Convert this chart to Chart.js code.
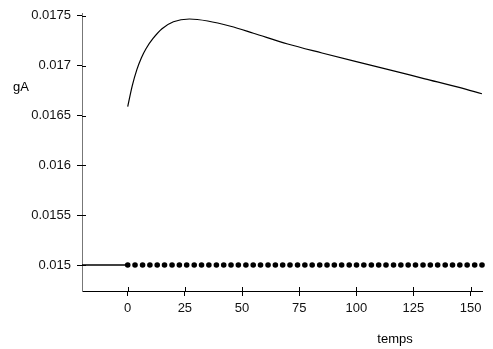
<!DOCTYPE html>
<html>
<head>
<meta charset="utf-8">
<script src="https://cdn.jsdelivr.net/npm/chart.js@4"></script>
<style>
  body { margin: 0; background: #fff; }
  canvas { display: block; }
</style>
</head>
<body>
<canvas id="chart" width="493" height="349"></canvas>
<script>
// curve gA(temps)
const curveTimes = [0, 2, 4, 6, 8, 11, 15, 20, 27, 35, 45, 55, 70, 85, 100, 115, 130, 145, 155];
const curveValues = [0.01659, 0.0168, 0.01696, 0.01708, 0.01717, 0.01727, 0.01737, 0.01744, 0.017468,
                     0.017448, 0.017395, 0.017325, 0.017217, 0.017127, 0.01704, 0.016955, 0.016868,
                     0.016782, 0.016718];

// flat level before t=0
const baseTimes = [-20, 0];
const baseValues = [0.015, 0.015];

// dotted series
const dotTimes = [0, 3.2, 6.5, 9.7, 12.9, 16.1, 19.4, 22.6, 25.8, 29.1, 32.3, 35.5, 38.8, 42, 45.2, 48.4,
                  51.7, 54.9, 58.1, 61.4, 64.6, 67.8, 71, 74.3, 77.5, 80.7, 84, 87.2, 90.4, 93.6, 96.9,
                  100.1, 103.3, 106.6, 109.8, 113, 116.3, 119.5, 122.7, 125.9, 129.2, 132.4, 135.6,
                  138.9, 142.1, 145.3, 148.5, 151.8, 155];
const dotLevel = 0.015;

const xTicks = [0, 25, 50, 75, 100, 125, 150];
const yTicks = [0.015, 0.0155, 0.016, 0.0165, 0.017, 0.0175];

const toPoints = (xs, ys) => xs.map((x, i) => ({ x: x, y: ys[i] }));

const font = { family: 'Liberation Sans, Arial, sans-serif', size: 13 };

// short tick marks inside the axes + axis titles
const extras = {
    id: 'extras',
    afterDraw(chart) {
        const ctx = chart.ctx;
        const xs = chart.scales.x, ys = chart.scales.y;
        const area = chart.chartArea;
        ctx.save();
        ctx.strokeStyle = '#000';
        ctx.lineWidth = 1;
        ctx.beginPath();
        xTicks.forEach(v => {
            const px = Math.round(xs.getPixelForValue(v)) + 0.5;
            ctx.moveTo(px, area.bottom);
            ctx.lineTo(px, area.bottom - 4);
        });
        yTicks.forEach(v => {
            const py = Math.round(ys.getPixelForValue(v)) + 0.5;
            ctx.moveTo(area.left, py);
            ctx.lineTo(area.left + 4, py);
        });
        ctx.stroke();

        ctx.fillStyle = '#000';
        ctx.font = '13px ' + font.family;
        ctx.textBaseline = 'middle';
        ctx.textAlign = 'left';
        ctx.fillText('gA', 13, 87);
        ctx.textAlign = 'center';
        ctx.fillText('temps', 395, 339);
        ctx.restore();
    }
};

new Chart(document.getElementById('chart'), {
    type: 'line',
    data: {
        datasets: [
            {
                data: toPoints(curveTimes, curveValues),
                borderColor: '#000',
                borderWidth: 1.2,
                pointRadius: 0,
                cubicInterpolationMode: 'monotone',
                fill: false
            },
            {
                data: toPoints(baseTimes, baseValues),
                borderColor: '#000',
                borderWidth: 1.5,
                pointRadius: 0,
                fill: false
            },
            {
                data: dotTimes.map(t => ({ x: t, y: dotLevel })),
                showLine: false,
                pointRadius: 2.8,
                pointBackgroundColor: '#000',
                pointBorderWidth: 0,
                clip: 6
            }
        ]
    },
    options: {
        responsive: false,
        animation: false,
        layout: { padding: { top: 11, right: 11, left: 0, bottom: 0 } },
        plugins: {
            legend: { display: false },
            tooltip: { enabled: false }
        },
        scales: {
            x: {
                type: 'linear',
                min: -20,
                max: 155,
                afterBuildTicks: s => { s.ticks = xTicks.map(v => ({ value: v })); },
                afterFit: s => { s.height = 58; },
                grid: { drawOnChartArea: false, tickLength: 5, color: '#000' },
                border: { color: '#000', width: 1 },
                ticks: { color: '#111', font: font, padding: 5, maxRotation: 0 }
            },
            y: {
                type: 'linear',
                min: 0.01474,
                max: 0.01752,
                afterBuildTicks: s => { s.ticks = yTicks.map(v => ({ value: v })); },
                afterFit: s => { s.width = 82; },
                grid: { drawOnChartArea: false, tickLength: 5, color: '#000' },
                border: { color: '#777', width: 1 },
                ticks: {
                    color: '#111',
                    font: font,
                    padding: 6,
                    callback: v => String(parseFloat(v.toFixed(4)))
                }
            }
        }
    },
    plugins: [extras]
});
</script>
</body>
</html>
